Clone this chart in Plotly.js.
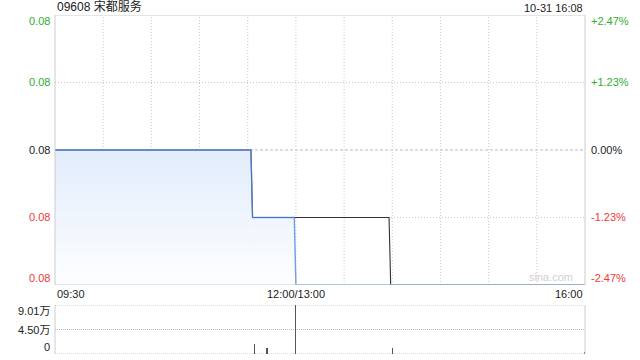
<!DOCTYPE html>
<html><head><meta charset="utf-8">
<script src="https://cdn.plot.ly/plotly-3.0.1.min.js"></script>
<style>html,body{margin:0;padding:0;background:#fff}#c{width:640px;height:360px}</style>
</head><body><div id="c"></div>
<script>
// ---- data ----
const stockTitle = "09608 宋都服务";
const stampText = "10-31 16:08";
const prevClose = 0.081;
const priceTimes = ["09:30","11:32","11:33","11:59","12:00","16:00"];
const prices     = [0.081, 0.081, 0.080, 0.080, 0.079, 0.079];
const avgTimes   = ["09:30","11:32","11:33","13:58","13:59","16:00"];
const avgPrices  = [0.081, 0.081, 0.080, 0.080, 0.079, 0.079];
const volTimes   = ["11:34","11:42","13:00","14:00","16:00"];
const volumes    = [18800, 10200, 90100, 10200, 3000];
const priceTicks = [0.083, 0.082, 0.081, 0.080, 0.079];
const pctLabels  = ["+2.47%","+1.23%","0.00%","-1.23%","-2.47%"];
const volTicks   = [90100, 45000, 0];
const volLabels  = ["9.01万","4.50万","0"];
const xLabelTimes = ["09:30","12:00","16:00"];
const xLabels     = ["09:30","12:00/13:00","16:00"];
const gridTimes  = ["10:00","10:30","11:00","11:30","12:00","13:30","14:00","14:30","15:00","15:30"];

// time -> trading minute index (lunch break skipped)
function toIdx(t){const [h,m]=t.split(":").map(Number);const v=h*60+m;return v<=720?v-570:v-780+150;}

const GREEN="#2fae2f", RED="#f03a3a", DARK="#222";
const font = {family:"Liberation Sans, Arial, Noto Sans CJK SC, sans-serif", size:11, color:DARK};
function colFor(v){return v>prevClose+1e-9?GREEN:(v<prevClose-1e-9?RED:DARK);}

const traces = [
  {x:priceTimes.map(toIdx), y:prices, type:"scatter", mode:"lines", fill:"tozeroy",
   fillgradient:{type:"vertical", start:0.079, stop:0.081,
     colorscale:[[0,"rgba(253,254,255,1)"],[1,"rgba(226,236,251,1)"]]},
   line:{width:0}, hoverinfo:"skip", xaxis:"x", yaxis:"y", showlegend:false},
  {x:avgTimes.map(toIdx), y:avgPrices, type:"scatter", mode:"lines",
   line:{color:"#333", width:1.1}, xaxis:"x", yaxis:"y", showlegend:false},
  {x:priceTimes.map(toIdx), y:prices, type:"scatter", mode:"lines",
   line:{color:"rgba(80,135,225,0.8)", width:1.4}, xaxis:"x", yaxis:"y", showlegend:false},
  {x:volTimes.map(toIdx), y:volumes, type:"bar", width:0.7,
   marker:{color:"#555", line:{width:0}}, xaxis:"x2", yaxis:"y3", showlegend:false}
];

const annotations = [];
annotations.push({text:stockTitle, xref:"paper", yref:"paper", x:0, y:1, xanchor:"left", yanchor:"bottom", yshift:-1, showarrow:false, font:{...font, size:12, color:"#222"}});
annotations.push({text:stampText, xref:"paper", yref:"paper", x:1, y:1, xanchor:"right", yanchor:"bottom", yshift:-1, showarrow:false, font:{...font, size:11, color:"#222"}});
priceTicks.forEach((v,i)=>{
  const sh = i===0?-6:(i===priceTicks.length-1?7:0);
  annotations.push({text:v.toFixed(2), xref:"paper", yref:"y", x:0, y:v, xanchor:"right", xshift:-3, yshift:sh, showarrow:false, font:{...font, color:colFor(v)}});
  annotations.push({text:pctLabels[i], xref:"paper", yref:"y", x:1, y:v, xanchor:"left", xshift:4, yshift:sh, showarrow:false, font:{...font, color:colFor(v)}});
});
volTicks.forEach((v,i)=>{
  const sh = i===0?-6:(i===volTicks.length-1?7:0);
  annotations.push({text:volLabels[i], xref:"paper", yref:"y3", x:0, y:v, xanchor:"right", xshift:-3, yshift:sh, showarrow:false, font:{...font}});
});
const anch=["left","center","right"];
xLabelTimes.forEach((t,i)=>{
  annotations.push({text:xLabels[i], xref:"x", yref:"paper", x:toIdx(t), y:0.177, xanchor:anch[i], yanchor:"middle", showarrow:false, font:{...font}});
});
annotations.push({text:"sina.com", xref:"x", yref:"y", x:toIdx("16:00"), y:0.079, xanchor:"right", yanchor:"bottom", xshift:-10, yshift:0, showarrow:false, font:{...font, size:11, color:"#d0d0d0"}});

const GRID="#c8c8c8";
const shapes = [];
gridTimes.forEach(t=>shapes.push({type:"line", xref:"x", yref:"y", x0:toIdx(t), x1:toIdx(t), y0:0.079, y1:0.083, line:{color:GRID, width:1, dash:"1px,2px"}, layer:"below"}));
[0.082,0.080].forEach(v=>shapes.push({type:"line", xref:"paper", yref:"y", x0:0, x1:1, y0:v, y1:v, line:{color:GRID, width:1, dash:"1px,2px"}, layer:"below"}));
shapes.push({type:"line", xref:"paper", yref:"y", x0:0, x1:1, y0:prevClose, y1:prevClose, line:{color:"#bbb", width:1, dash:"3px,2px"}, layer:"below"});
shapes.push({type:"rect", xref:"paper", yref:"y", x0:0, x1:1, y0:0.079, y1:0.083, line:{color:"#cccccc", width:1}, layer:"above"});
volTicks.forEach(v=>shapes.push({type:"line", xref:"paper", yref:"y3", x0:0, x1:1, y0:v, y1:v, line:{color:"#bbb", width:1, dash:"1px,1px"}, layer:"below"}));
shapes.push({type:"line", xref:"paper", yref:"y3", x0:0, x1:0, y0:0, y1:90100, line:{color:"#ccc", width:1}});
shapes.push({type:"line", xref:"paper", yref:"y3", x0:1, x1:1, y0:0, y1:90100, line:{color:"#ccc", width:1}});

const layout = {
  width:640, height:360, paper_bgcolor:"#fff", plot_bgcolor:"rgba(0,0,0,0)",
  margin:{l:55, r:55, t:15, b:6},
  font:font, showlegend:false, bargap:0,
  xaxis:{domain:[0,1], range:[0,330], showgrid:false, zeroline:false, showticklabels:false, showline:false, fixedrange:true, anchor:"y"},
  xaxis2:{domain:[0,1], range:[0,330], showgrid:false, zeroline:false, showticklabels:false, showline:false, anchor:"y3"},
  yaxis:{domain:[0.2036,1], range:[0.079,0.083], showgrid:false, zeroline:false, showticklabels:false, showline:false},
  yaxis3:{domain:[0,0.1446], range:[0,90100], showgrid:false, zeroline:false, showticklabels:false, showline:false},
  annotations:annotations, shapes:shapes
};
Plotly.newPlot("c", traces, layout, {displayModeBar:false, staticPlot:true});
</script></body></html>
